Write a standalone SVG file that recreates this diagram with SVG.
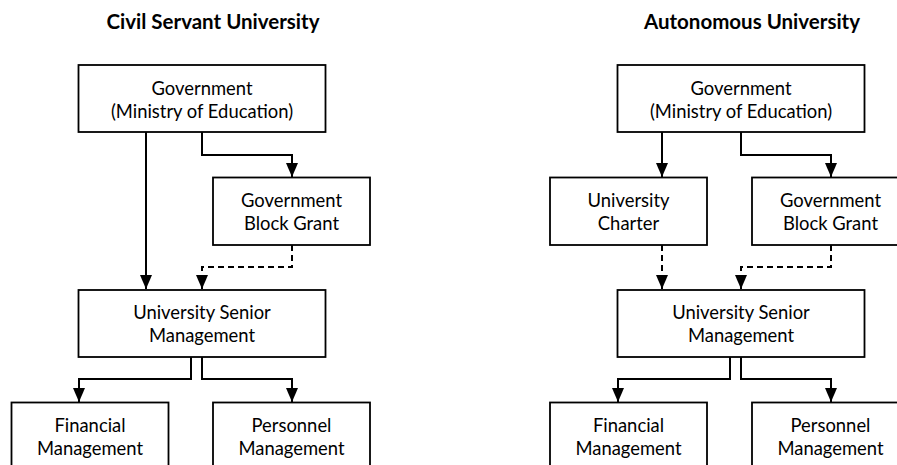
<svg xmlns="http://www.w3.org/2000/svg" width="897" height="465" viewBox="0 0 897 465">
  <style>
    .box { fill: #ffffff; stroke: #000000; stroke-width: 1.8; }
    .lbl { font-family: Lato, "Liberation Sans", sans-serif; font-size: 18.4px; fill: #000000; text-anchor: middle; }
    .title { font-family: Lato, "Liberation Sans", sans-serif; font-size: 20.5px; font-weight: bold; fill: #000000; text-anchor: middle; }
    .edge { fill: none; stroke: #000000; stroke-width: 2; marker-end: url(#arrow); }
    .dash { stroke-dasharray: 6 4; }
  </style>
  <defs>
    <marker id="arrow" markerUnits="userSpaceOnUse" markerWidth="14" markerHeight="12" refX="14" refY="6" orient="auto">
      <path d="M0,0 L14,6 L0,12 z" fill="#000000"/>
    </marker>
  </defs>

  <rect x="0" y="0" width="897" height="465" fill="#ffffff"/>

  <!-- column headings -->
  <text class="title" x="213" y="28.5">Civil Servant University</text>
  <text class="title" x="752" y="28.5">Autonomous University</text>

  <!-- connectors -->
  <g id="connectors">
    <!-- civil servant model -->
    <path class="edge" d="M146,132 V289"/>
    <path class="edge" d="M202,132 V155 H292 V177"/>
    <path class="edge dash" d="M292,245 V267 H202 V289"/>
    <path class="edge" d="M191,357 V379 H79 V402"/>
    <path class="edge" d="M202,357 V379 H292 V402"/>
    <!-- autonomous model -->
    <path class="edge" d="M662,132 V177"/>
    <path class="edge" d="M741,132 V155 H831 V177"/>
    <path class="edge dash" d="M662,245 V289"/>
    <path class="edge dash" d="M831,245 V267 H741 V289"/>
    <path class="edge" d="M730,357 V379 H618 V402"/>
    <path class="edge" d="M741,357 V379 H831 V402"/>
  </g>

  <!-- civil servant model nodes -->
  <g id="cs-government">
    <rect class="box" x="78.5" y="65" width="247" height="67"/>
    <text class="lbl" x="202" y="94.5">Government</text>
    <text class="lbl" x="202" y="117.5">(Ministry of Education)</text>
  </g>
  <g id="cs-block-grant">
    <rect class="box" x="213" y="177.5" width="157" height="67.5"/>
    <text class="lbl" x="291.5" y="206.5">Government</text>
    <text class="lbl" x="291.5" y="229.5">Block Grant</text>
  </g>
  <g id="cs-senior-management">
    <rect class="box" x="78.5" y="290" width="247" height="67"/>
    <text class="lbl" x="202" y="319">University Senior</text>
    <text class="lbl" x="202" y="342">Management</text>
  </g>
  <g id="cs-financial">
    <rect class="box" x="11.5" y="402.5" width="157" height="80"/>
    <text class="lbl" x="90" y="431.5">Financial</text>
    <text class="lbl" x="90" y="454.5">Management</text>
  </g>
  <g id="cs-personnel">
    <rect class="box" x="213" y="402.5" width="157" height="80"/>
    <text class="lbl" x="291.5" y="431.5">Personnel</text>
    <text class="lbl" x="291.5" y="454.5">Management</text>
  </g>

  <!-- autonomous model nodes -->
  <g id="au-government">
    <rect class="box" x="617.5" y="65" width="247" height="67"/>
    <text class="lbl" x="741" y="94.5">Government</text>
    <text class="lbl" x="741" y="117.5">(Ministry of Education)</text>
  </g>
  <g id="au-charter">
    <rect class="box" x="550" y="177.5" width="157" height="67.5"/>
    <text class="lbl" x="628.5" y="206.5">University</text>
    <text class="lbl" x="628.5" y="229.5">Charter</text>
  </g>
  <g id="au-block-grant">
    <rect class="box" x="752" y="177.5" width="157" height="67.5"/>
    <text class="lbl" x="830.5" y="206.5">Government</text>
    <text class="lbl" x="830.5" y="229.5">Block Grant</text>
  </g>
  <g id="au-senior-management">
    <rect class="box" x="617.5" y="290" width="247" height="67"/>
    <text class="lbl" x="741" y="319">University Senior</text>
    <text class="lbl" x="741" y="342">Management</text>
  </g>
  <g id="au-financial">
    <rect class="box" x="550" y="402.5" width="157" height="80"/>
    <text class="lbl" x="628.5" y="431.5">Financial</text>
    <text class="lbl" x="628.5" y="454.5">Management</text>
  </g>
  <g id="au-personnel">
    <rect class="box" x="752" y="402.5" width="157" height="80"/>
    <text class="lbl" x="830.5" y="431.5">Personnel</text>
    <text class="lbl" x="830.5" y="454.5">Management</text>
  </g>
</svg>
